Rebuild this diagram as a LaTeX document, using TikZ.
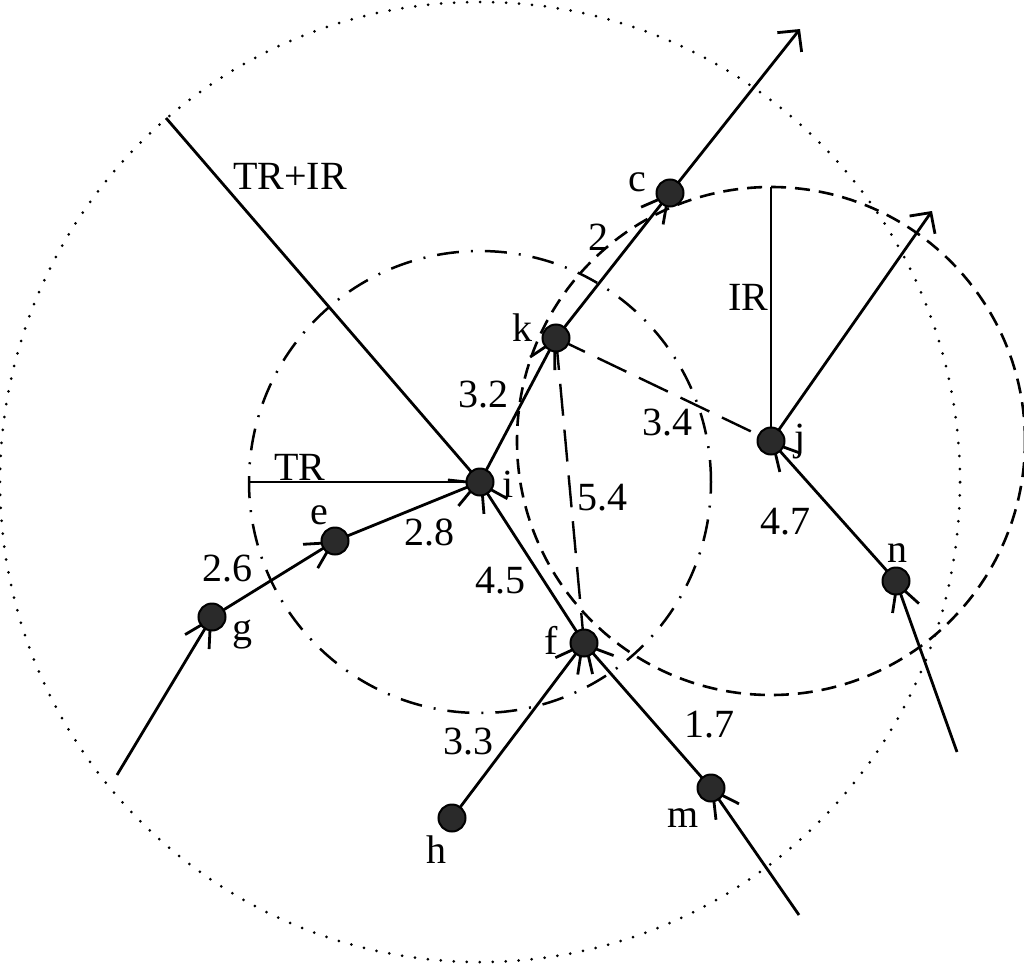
\documentclass[tikz,border=0pt]{standalone}
\usepackage{fontspec}
\setmainfont{Liberation Serif}
\usetikzlibrary{arrows.meta,backgrounds}
\definecolor{dotgray}{HTML}{2A2A2A}
\begin{document}
\begin{tikzpicture}[x=0.5pt,y=-0.5pt,
  dot/.style={circle,draw=black,fill=dotgray,line width=1pt,minimum size=13.5pt,inner sep=0pt},
  lab/.style={inner sep=0pt,font=\fontsize{20}{24}\selectfont},
  edge/.style={line width=1.4pt},
  nodearrow/.style={edge,-{Straight Barb[length=13pt,width=14pt]}},
  freearrow/.style={edge,-{Straight Barb[length=7.5pt,width=15.5pt]}},
  dotline/.style={line width=1.5pt,line cap=round,dash pattern=on 0pt off 6.5pt},
  dashdotline/.style={line width=1.25pt,dash pattern=on 11pt off 6pt on 1pt off 6pt},
  dashline/.style={line width=1.3pt,dash pattern=on 7.5pt off 4.5pt},
  longdash/.style={line width=1.2pt,dash pattern=on 16pt off 7pt}]
\useasboundingbox (0,0) rectangle (1024,964);
% nodes
\node[dot] (c) at (670,193) {};
\node[dot] (k) at (556,338) {};
\node[dot] (i) at (480,482) {};
\node[dot] (j) at (771,441) {};
\node[dot] (e) at (335,541) {};
\node[dot] (g) at (212,617) {};
\node[dot] (n) at (896,581) {};
\node[dot] (f) at (584,643) {};
\node[dot] (h) at (452,818) {};
\node[dot] (m) at (711,788) {};
% free ends
\coordinate (g0) at (117,775);
\coordinate (m0) at (799,915);
\coordinate (n0) at (957,752);
\coordinate (cend) at (800,29);
\coordinate (jend) at (932,211);
\coordinate (trir) at (166,118);
\coordinate (trl) at (249,482);
\coordinate (irt) at (771,187);
\begin{pgfonlayer}{background}
  \fill[white] (0,0) rectangle (1024,964);
  \draw[dotline] (i.center) circle[radius=240pt];
  \draw[dashdotline] (i.center) circle[radius=115.5pt];
  \draw[dashline] (j.center) circle[radius=127pt];
  \draw[edge] (trir) -- (i.center);
  \draw[edge] (trl) -- (i.center);
  \draw[edge] (irt) -- (j.center);
  \draw[longdash] (k.center) -- (j.center);
  \draw[longdash] (k.center) -- (f.center);
  \draw[nodearrow] (g0) -- (g.center);
  \draw[nodearrow] (g.center) -- (e.center);
  \draw[nodearrow] (e.center) -- (i.center);
  \draw[nodearrow] (i.center) -- (k.center);
  \draw[nodearrow] (k.center) -- (c.center);
  \draw[freearrow] (c.center) -- (cend);
  \draw[nodearrow] (f.center) -- (i.center);
  \draw[nodearrow] (h.center) -- (f.center);
  \draw[nodearrow] (m.center) -- (f.center);
  \draw[nodearrow] (m0) -- (m.center);
  \draw[nodearrow] (n0) -- (n.center);
  \draw[nodearrow] (n.center) -- (j.center);
  \draw[freearrow] (j.center) -- (jend);
\end{pgfonlayer}
% labels
\node[lab] (ltrir) at (290,176) {TR+IR};
\node[lab] (ltr) at (300,467) {TR};
\node[lab] (lir) at (748,297) {IR};
\node[lab] (w2) at (598,237) {2};
\node[lab] (w32) at (483,395) {3.2};
\node[lab] (w34) at (667,423) {3.4};
\node[lab] (w54) at (602,498) {5.4};
\node[lab] (w28) at (429,532) {2.8};
\node[lab] (w26) at (227,569) {2.6};
\node[lab] (w45) at (500,581) {4.5};
\node[lab] (w47) at (785,522) {4.7};
\node[lab] (w33) at (468,742) {3.3};
\node[lab] (w17) at (709,725) {1.7};
\node[lab] (lc) at (637,182) {c};
\node[lab] (lk) at (522,328) {k};
\node[lab] (li) at (508,484) {i};
\node[lab] (lj) at (800,442) {j};
\node[lab] (le) at (319,515) {e};
\node[lab] (lg) at (242,635) {g};
\node[lab] (ln) at (897,553) {n};
\node[lab] (lf) at (551,640) {f};
\node[lab] (lh) at (436,850) {h};
\node[lab] (lm) at (683,818) {m};
\end{tikzpicture}
\end{document}
